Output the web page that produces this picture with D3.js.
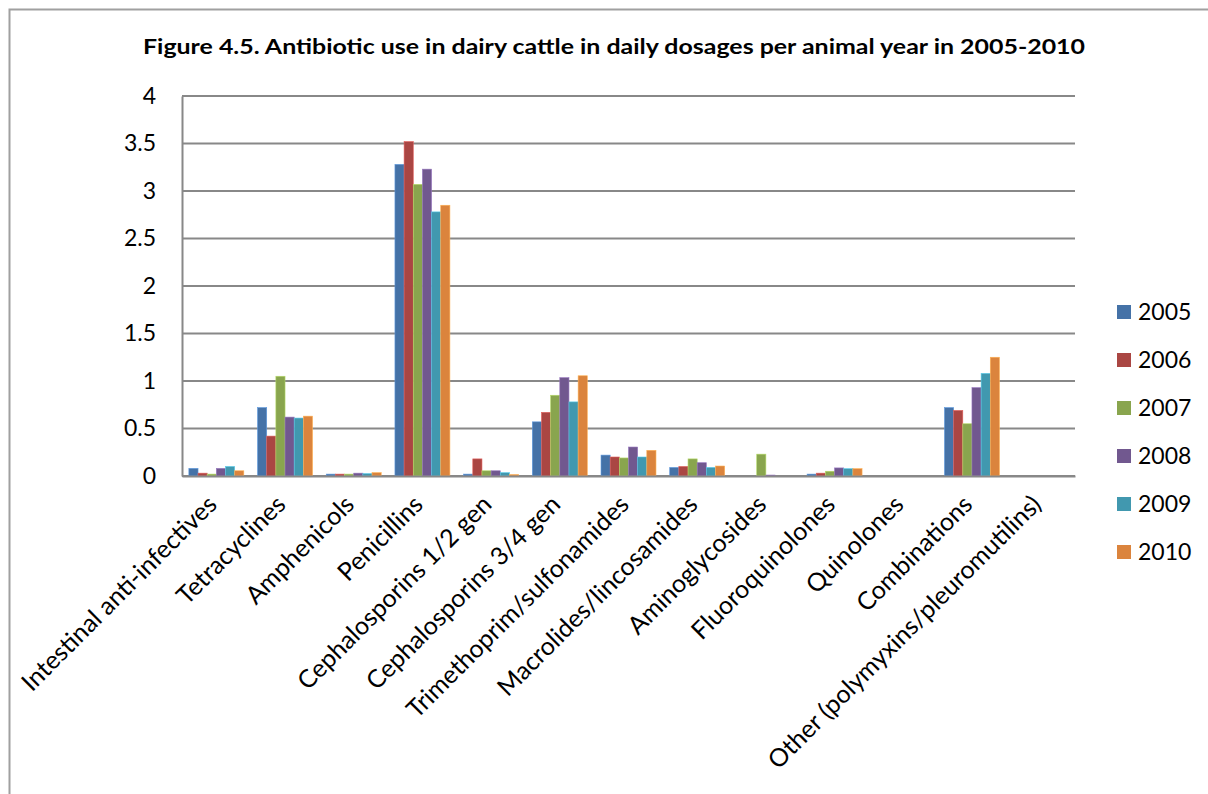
<!DOCTYPE html>
<html lang="en">
<head>
<meta charset="UTF-8">
<title>Antibiotic use in dairy cattle</title>
<script src="https://d3js.org/d3.v7.min.js"></script>
<style>
  body { margin: 0; background: #fff; }
  svg { font-family: Lato, "Open Sans", sans-serif; }
</style>
</head>
<body>
<svg id="canvas"></svg>
<script>
let categories = ['Intestinal anti-infectives', 'Tetracyclines', 'Amphenicols', 'Penicillins',
  'Cephalosporins 1/2 gen', 'Cephalosporins 3/4 gen', 'Trimethoprim/sulfonamides',
  'Macrolides/lincosamides', 'Aminoglycosides', 'Fluoroquinolones', 'Quinolones',
  'Combinations', 'Other (polymyxins/pleuromutilins)']
let years = ['2005', '2006', '2007', '2008', '2009', '2010']

let v2005 = [0.08, 0.72, 0.02, 3.28, 0.02, 0.57, 0.22, 0.09, 0, 0.02, 0, 0.72, 0]
let v2006 = [0.03, 0.42, 0.02, 3.52, 0.18, 0.67, 0.2, 0.1, 0, 0.03, 0, 0.69, 0]
let v2007 = [0.02, 1.05, 0.02, 3.07, 0.055, 0.85, 0.19, 0.18, 0.23, 0.05, 0, 0.55, 0]
let v2008 = [0.08, 0.62, 0.03, 3.23, 0.055, 1.035, 0.305, 0.14, 0.01, 0.085, 0, 0.93, 0]
let v2009 = [0.1, 0.61, 0.025, 2.78, 0.035, 0.78, 0.2, 0.09, 0, 0.077, 0, 1.08, 0]
let v2010 = [0.055, 0.63, 0.035, 2.85, 0.015, 1.055, 0.27, 0.105, 0, 0.077, 0, 1.25, 0]
let series = [v2005, v2006, v2007, v2008, v2009, v2010]

let yTicks = [0, 0.5, 1, 1.5, 2, 2.5, 3, 3.5, 4]
let colors = ['#4572A7', '#AA4643', '#89A54E', '#71588F', '#4198AF', '#DB843D']

let width = 1208
let height = 794
let plotLeft = 182, plotRight = 1075, plotTop = 96, plotBottom = 476

let svg = d3.select('svg').attr('width', width).attr('height', height)

// frame
svg.append('path')
   .attr('d', 'M9.5,' + height + 'V9.5H' + width)
   .attr('fill', 'none').attr('stroke', '#a0a0a0').attr('stroke-width', 2)

svg.append('text')
   .attr('x', 614).attr('y', 54)
   .attr('text-anchor', 'middle')
   .attr('font-weight', 'bold').attr('font-size', 21)
   .attr('textLength', 942).attr('lengthAdjust', 'spacingAndGlyphs')
   .text('Figure 4.5. Antibiotic use in dairy cattle in daily dosages per animal year in 2005-2010')

let xScale = d3.scaleBand().domain(categories).range([plotLeft, plotRight])
let yScale = d3.scaleLinear().domain([0, 4]).range([plotBottom, plotTop])
let bw = xScale.bandwidth() / 7.5
let inner = d3.scaleBand().domain(years).range([bw * 0.75, bw * 6.75])

// gridlines
svg.append('g')
   .selectAll('line')
   .data(yTicks)
   .enter()
   .append('line')
   .attr('x1', plotLeft).attr('x2', plotRight)
   .attr('y1', d => yScale(d)).attr('y2', d => yScale(d))
   .attr('stroke', '#888').attr('stroke-width', 2)

// bars
series.forEach((vals, s) => {
  svg.append('g')
     .selectAll('rect')
     .data(vals)
     .enter()
     .append('rect')
     .attr('x', (d, i) => xScale(categories[i]) + inner(years[s]))
     .attr('width', inner.bandwidth())
     .attr('y', d => yScale(d))
     .attr('height', d => plotBottom - yScale(d))
     .attr('fill', colors[s])
     .attr('stroke', d3.color(colors[s]).brighter(0.8))
     .attr('stroke-width', 0.6)
})

// y axis
let yAxis = d3.axisLeft(yScale).tickValues(yTicks).tickFormat(d => d).tickSize(0).tickPadding(26)
let yg = svg.append('g').attr('transform', 'translate(' + plotLeft + ',0)').call(yAxis)
yg.select('.domain').attr('stroke', '#888').attr('stroke-width', 2)
yg.selectAll('text').attr('font-size', 23).attr('font-family', 'Lato, sans-serif').attr('fill', '#000')

// x axis
let xAxis = d3.axisBottom(xScale).tickSize(0).tickPadding(0)
let xg = svg.append('g').attr('transform', 'translate(0,' + plotBottom + ')').call(xAxis)
xg.select('.domain').attr('stroke', '#888').attr('stroke-width', 2)
xg.selectAll('.tick text')
  .attr('font-size', 25).attr('font-family', 'Lato, sans-serif').attr('fill', '#000')
  .attr('text-anchor', 'end')
  .attr('dy', 0)
  .attr('transform', 'translate(2,30) rotate(-45)')

// legend
let legend = svg.append('g')
  .selectAll('g')
  .data(years)
  .enter()
  .append('g')
  .attr('transform', (d, i) => 'translate(1117,' + (305 + i * 48) + ')')
legend.append('rect').attr('width', 14).attr('height', 14).attr('fill', (d, i) => colors[i])
legend.append('text').attr('x', 21).attr('y', 15).attr('font-size', 23).text(d => d)
</script>
</body>
</html>
